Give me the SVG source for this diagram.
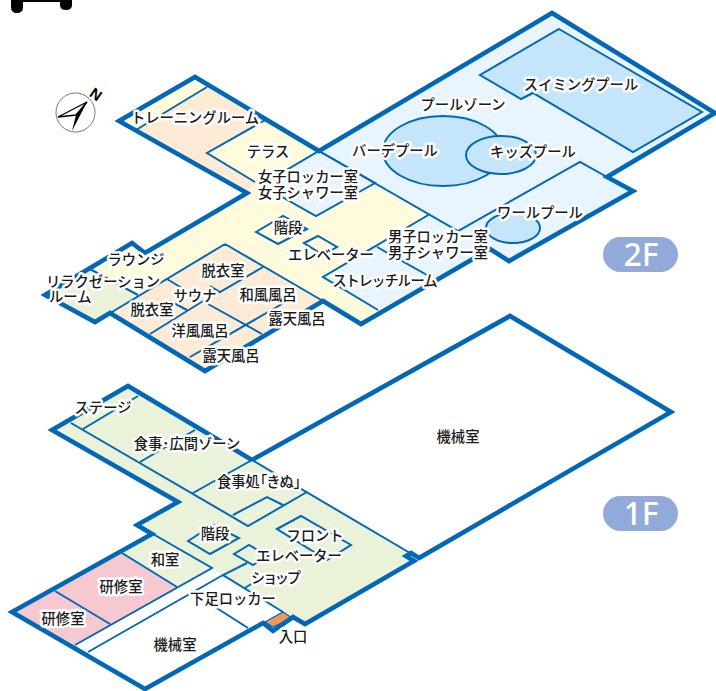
<svg xmlns="http://www.w3.org/2000/svg" width="716" height="691" viewBox="0 0 716 691">
<style>
.t{font-family:"Noto Sans CJK JP","Noto Sans",sans-serif;font-size:14.3px;fill:#1a1a1a;text-anchor:middle;paint-order:stroke;stroke:#fff;stroke-width:5px;stroke-linejoin:round;font-weight:500}
.l{text-anchor:start}
.th{fill:none;stroke:#0068b7;stroke-width:2;stroke-linejoin:miter}
.w{fill:none;stroke:#0068b7;stroke-width:4.6;stroke-linejoin:miter}
.cr{fill:#fffbdc}.pe{fill:#fdebd5}.lb{fill:#e8f5fe}.bl{fill:#c5e6fa}.gr{fill:#eaf2da}.pk{fill:#f6c8d0}.wh{fill:#fff}
.pill{fill:#91aad9}
.ft{font-family:"Noto Sans",sans-serif;font-size:32px;font-weight:500;fill:#fff;text-anchor:middle}
</style>
<path id="crop-mark" d="M11 0H72V5Q72 10 66 10Q60 10 60 5V2H23V7Q23 13 17 13Q11 13 11 7Z" fill="#000"/>
<g id="compass">
<circle cx="75.5" cy="112.5" r="19.5" fill="#fff" stroke="#777" stroke-width="1"/>
<polygon points="87,102 58,117 76,115" fill="#fff" stroke="#000" stroke-width="1.4"/>
<polygon points="87,102 76,115 72,131" fill="#000"/>
<text transform="translate(88.5,95.5) rotate(35)" font-family="Liberation Sans,sans-serif" font-size="15" font-weight="700" fill="#000">N</text>
</g>
<g id="floor-2f-fills">
<polygon class="cr" points="195,77 119,121 247,193 145,253 132,243 45,295 95,322 110,313 205,371 323,301 361,324 490,249 509,261 633,191 607,177 715,113 552,13 319,151"/>
<polygon class="pe" points="207,87 263,121 207,153 255,182 247,192 136,130"/>
<polygon class="gr" points="88,268 138,295 112,312 95,322 45,295"/>
<polygon class="pe" points="225,244 323,301 205,371 110,313"/>
<polygon class="lb" points="319,151 552,13 715,113 607,177 633,191 509,261 490,249 378,310 323,277 430,214"/>
<polygon class="lb" points="319,151 375,183 316,216 261,185"/>
</g>
<g id="connectors-2f">
<polygon class="bl" points="559,29 702,112 633,152 533,93 521,99 480,75" stroke="#0068b7" stroke-width="2"/>
<ellipse cx="443" cy="151" rx="60" ry="35" class="bl" stroke="#0068b7" stroke-width="2"/>
<ellipse cx="501" cy="155" rx="35" ry="19" class="bl" stroke="#0068b7" stroke-width="2"/>
<ellipse cx="513" cy="228" rx="27" ry="15" class="bl" stroke="#0068b7" stroke-width="2"/>
<path class="th" d="M207 87L136 130M267 119L207 153L255 182"/>
<polygon class="th" points="319,151 375,183 316,216 261,185"/>
<path class="th" d="M319 151L458 231L580 162L607 177M430 214L323 277L378 310M377 247L427 275"/>
<polygon class="th" points="256,232 283,216 307,229 278,244"/>
<polygon class="th" points="304,243 318,236 337,247 323,255"/>
<path class="th" d="M88 268L138 295M225 244L323 301M225 244L112 312M263 267L220 292L210 286M167 279L195 296M170 301L187 310M150 334L208 298M208 304L262 334M190 357L282 304"/>
</g>
<path id="wall-2f" class="w" d="M195 77L119 121L247 193L145 253L132 243L45 295L95 322L110 313L205 371L323 301L361 324L490 249L509 261L633 191L607 177L715 113L552 13L319 151Z"/>
<g id="floor-1f-fills">
<polygon class="gr" points="128,386 52,430 178,502 137,525 152,534 12,612 145,689 263,623 273,631 293,617 305,624 415,561 406,556 410,553 252,460"/>
<polygon class="wh" points="212,568 283,612 263,623 145,689 75,645"/>
<polygon class="pk" points="122,553 177,587 75,645 12,612"/>
<polygon points="265,622 283,612 292,618 273,627" fill="#f09a5a" stroke="#0068b7" stroke-width="1.2"/>
</g>
<g id="connectors-1f">
<path class="th" d="M138 396L83 429M71 423L248 526L307 492M195 430L140 462M252 460L193 493M233 515L267 497L283 505M252 460L410 553"/>
<polygon class="th" points="188,541 213,525 239,538 210,554"/>
<polygon class="th" points="277,529 301,516 351,545 327,560"/>
<polygon class="th" points="234,554 249,545 268,556 253,565"/>
<path class="th" d="M247 563L223 575L283 612M245 588L262 577M153 534L212 568L75 645M122 553L177 587M55 591L110 624M223 575L88 652M193 593L248 628"/>
</g>
<path id="wall-1f" class="w" d="M252 460L128 386L52 430L178 502L137 525L152 534L12 612L145 689L263 623L273 631L293 617L305 624L414 561L406 556L411 553L419 558L671 412L510 316L252 460"/>
<g id="labels-2f">
<text class="t" x="195" y="123">トレーニングルーム</text>
<text class="t" x="268" y="157">テラス</text>
<text class="t" x="308" y="182">女子ロッカー室</text>
<text class="t" x="308" y="198">女子シャワー室</text>
<text class="t" x="463" y="110">プールゾーン</text>
<text class="t" x="581" y="90">スイミングプール</text>
<text class="t" x="395" y="156">バーデプール</text>
<text class="t" x="533" y="157">キッズプール</text>
<text class="t" x="540" y="218">ワールプール</text>
<text class="t" x="288" y="233">階段</text>
<text class="t" x="331" y="260">エレベーター</text>
<text class="t" x="438" y="242">男子ロッカー室</text>
<text class="t" x="438" y="258">男子シャワー室</text>
<text class="t" x="385" y="286" textLength="105">ストレッチルーム</text>
<text class="t" x="136" y="265">ラウンジ</text>
<text class="t" x="103" y="287">リラクゼーション</text>
<text class="t l" x="49" y="302">ルーム</text>
<text class="t" x="223" y="276">脱衣室</text>
<text class="t" x="195" y="301">サウナ</text>
<text class="t" x="268" y="300">和風風呂</text>
<text class="t" x="152" y="315">脱衣室</text>
<text class="t" x="297" y="324">露天風呂</text>
<text class="t" x="200" y="336">洋風風呂</text>
<text class="t" x="231" y="361">露天風呂</text>
</g>
<g id="labels-1f">
<text class="t" x="103" y="413">ステージ</text>
<text class="t" x="187" y="449">食事･広間ゾーン</text>
<text class="t" x="259" y="487" style="font-feature-settings:'palt'">食事処「きぬ」</text>
<text class="t" x="215" y="539">階段</text>
<text class="t" x="315" y="541">フロント</text>
<text class="t" x="299" y="561">エレベーター</text>
<text class="t" x="165" y="565">和室</text>
<text class="t" x="276" y="583" textLength="50">ショップ</text>
<text class="t" x="121" y="592">研修室</text>
<text class="t" x="233" y="604">下足ロッカー</text>
<text class="t" x="63" y="624">研修室</text>
<text class="t" x="175" y="650">機械室</text>
<text class="t" x="293" y="642">入口</text>
<text class="t" x="458" y="442">機械室</text>
</g>
<g id="badge-2f"><rect class="pill" x="603" y="237" width="75" height="35" rx="17.5"/><text class="ft" x="641" y="266">2F</text></g>
<g id="badge-1f"><rect class="pill" x="603" y="496" width="75" height="35" rx="17.5"/><text class="ft" x="641" y="525">1F</text></g>
</svg>
